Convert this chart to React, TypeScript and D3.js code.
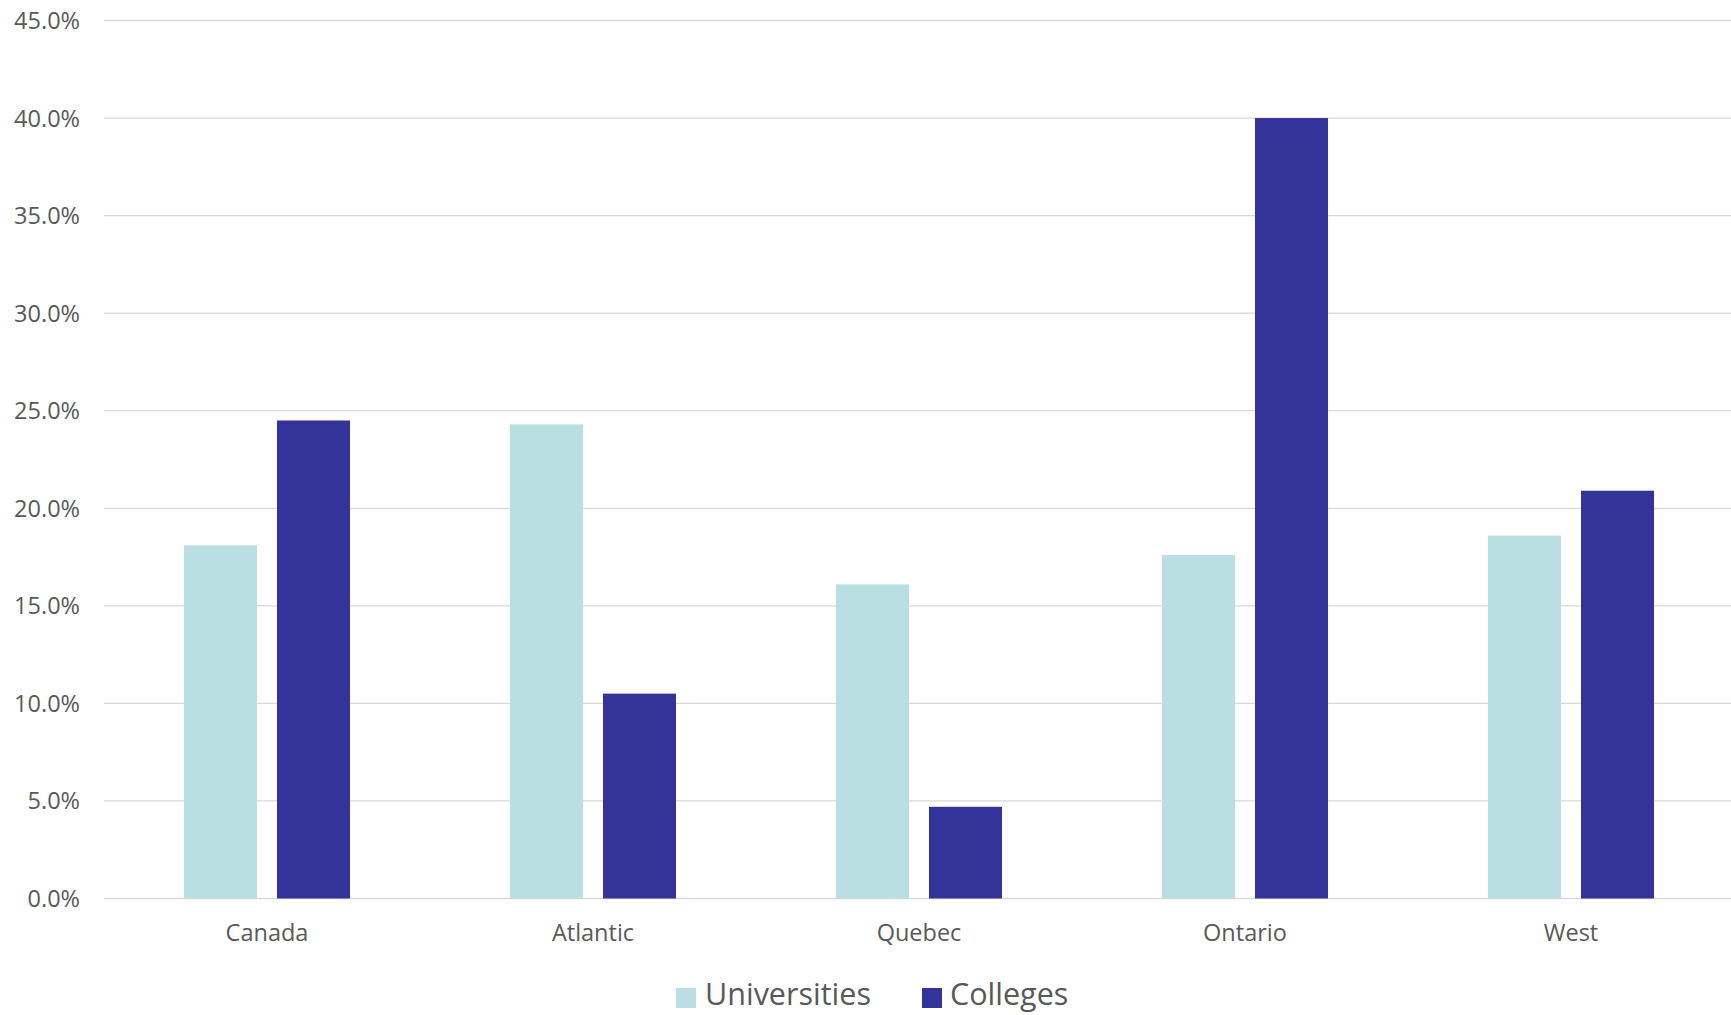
import React from "react";
import * as d3 from "d3";

const categories = ["Canada", "Atlantic", "Quebec", "Ontario", "West"];
const seriesNames = ["Universities", "Colleges"];
const universities = [0.181, 0.243, 0.161, 0.176, 0.186];
const colleges = [0.245, 0.105, 0.047, 0.4, 0.209];
const yTicks = [0, 0.05, 0.1, 0.15, 0.2, 0.25, 0.3, 0.35, 0.4, 0.45];
const colors = ["#badfe2", "#343399"];

const W = 1731;
const H = 1015;

export default function App() {
  const x0 = d3.scaleBand<string>().domain(categories).range([104, 1734]).padding(0);
  const groupW = 166;
  const x1 = d3.scaleBand<string>().domain(seriesNames).range([0, groupW]).paddingInner(20 / 93).paddingOuter(0);
  const y = d3.scaleLinear().domain([0, 0.45]).range([898.5, 20.5]);
  const fmt = d3.format(".1%");
  const values = [universities, colleges];
  const font = "'Open Sans', sans-serif";

  return (
    <svg width={W} height={H} style={{ position: "absolute", left: 0, top: 0, background: "#fff" }}>
      {yTicks.map((t) => (
        <g key={t}>
          <line x1={104} x2={1731} y1={y(t)} y2={y(t)} stroke="#d9d9d9" strokeWidth={1.3} />
          <text x={80} y={y(t)} dy="0.36em" textAnchor="end" fontFamily={font} fontSize={23.5} fill="#595959">
            {fmt(t)}
          </text>
        </g>
      ))}
      {categories.map((c, i) => {
        const cx = (x0(c) as number) + x0.bandwidth() / 2;
        const gx = cx - groupW / 2;
        return (
          <g key={c}>
            {seriesNames.map((s, si) => {
              const v = values[si][i];
              return (
                <rect
                  key={s}
                  x={gx + (x1(s) as number)}
                  y={y(v)}
                  width={x1.bandwidth()}
                  height={y(0) - y(v)}
                  fill={colors[si]}
                />
              );
            })}
            <text x={cx} y={941} textAnchor="middle" fontFamily={font} fontSize={23.5} fill="#595959">
              {c}
            </text>
          </g>
        );
      })}
      <g>
        <rect x={676} y={988} width={20} height={20} fill={colors[0]} />
        <text x={705} y={1005} fontFamily={font} fontSize={30.5} fill="#595959">Universities</text>
        <rect x={922} y={988} width={20} height={20} fill={colors[1]} />
        <text x={950} y={1005} fontFamily={font} fontSize={30.5} fill="#595959">Colleges</text>
      </g>
    </svg>
  );
}
